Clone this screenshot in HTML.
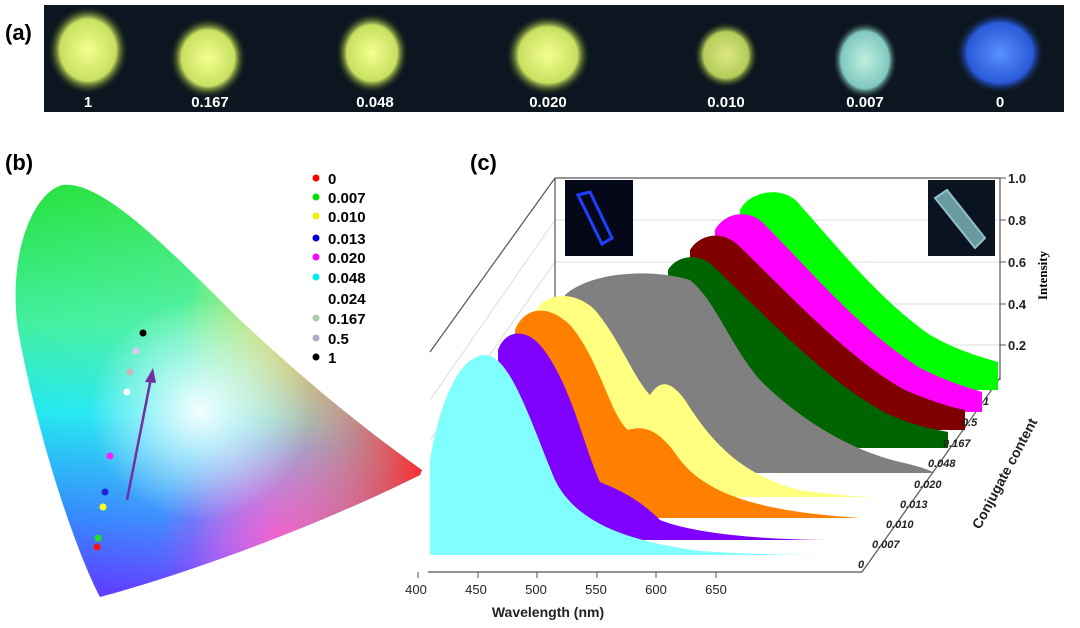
<!DOCTYPE html>
<html><head><meta charset="utf-8"><style>
body{margin:0;background:#fff;width:1080px;height:628px;overflow:hidden;font-family:"Liberation Sans",Arial,sans-serif}
svg{display:block}
</style></head><body>
<svg width="1080" height="628" viewBox="0 0 1080 628" xmlns="http://www.w3.org/2000/svg">
<defs>
<radialGradient id="sp" cx="50%" cy="50%" r="50%">
<stop offset="0" stop-color="#f4ff90"/><stop offset="0.7" stop-color="#c8e060"/><stop offset="1" stop-color="#223010" stop-opacity="0"/></radialGradient>
<radialGradient id="sb" cx="50%" cy="50%" r="50%">
<stop offset="0" stop-color="#5a90ff"/><stop offset="0.75" stop-color="#2a5ad8"/><stop offset="1" stop-color="#102040" stop-opacity="0"/></radialGradient>
<radialGradient id="sc" cx="50%" cy="50%" r="50%">
<stop offset="0" stop-color="#c0f0e0"/><stop offset="0.75" stop-color="#80c8c0"/><stop offset="1" stop-color="#203030" stop-opacity="0"/></radialGradient>
<linearGradient id="cieV" x1="0" y1="0" x2="0" y2="1">
<stop offset="0" stop-color="#20e030"/><stop offset="0.35" stop-color="#40f0a0"/><stop offset="0.55" stop-color="#20e8f0"/><stop offset="0.8" stop-color="#3080ff"/><stop offset="1" stop-color="#6020ff"/></linearGradient>
<linearGradient id="cieH" x1="0" y1="0" x2="1" y2="0">
<stop offset="0" stop-color="#fff" stop-opacity="0"/><stop offset="0.45" stop-color="#ffffff" stop-opacity="0.1"/><stop offset="1" stop-color="#ff2020" stop-opacity="1"/></linearGradient>
<radialGradient id="cieW" cx="200" cy="410" r="110" gradientUnits="userSpaceOnUse">
<stop offset="0" stop-color="#fff" stop-opacity="0.95"/><stop offset="1" stop-color="#fff" stop-opacity="0"/></radialGradient>
<radialGradient id="cieY" cx="300" cy="330" r="120" gradientUnits="userSpaceOnUse">
<stop offset="0" stop-color="#ffee20" stop-opacity="0.8"/><stop offset="1" stop-color="#ffee20" stop-opacity="0"/></radialGradient>
<radialGradient id="cieM" cx="280" cy="540" r="120" gradientUnits="userSpaceOnUse">
<stop offset="0" stop-color="#ff20e0" stop-opacity="0.9"/><stop offset="1" stop-color="#ff20e0" stop-opacity="0"/></radialGradient>
<clipPath id="cie"><path d="M100,597 C80,560 40,450 18,330 C8,260 30,195 62,185 C100,180 160,240 240,320 C320,395 380,440 422,470 L420,475 C330,520 200,570 100,597 Z"/></clipPath>
</defs>

<!-- (a) strip -->
<rect x="44" y="5" width="1020" height="107" fill="#0c1620"/>
<ellipse cx="88" cy="50" rx="40" ry="44" fill="url(#sp)"/>
<ellipse cx="208" cy="58" rx="38" ry="40" fill="url(#sp)"/>
<ellipse cx="372" cy="53" rx="36" ry="40" fill="url(#sp)"/>
<ellipse cx="548" cy="55" rx="42" ry="40" fill="url(#sp)"/>
<ellipse cx="726" cy="55" rx="32" ry="33" fill="url(#sp)" opacity="0.9"/>
<ellipse cx="865" cy="60" rx="32" ry="38" fill="url(#sc)"/>
<ellipse cx="1000" cy="53" rx="44" ry="40" fill="url(#sb)"/>
<g fill="#fff" font-weight="bold" font-size="15" text-anchor="middle">
<text x="88" y="107">1</text><text x="210" y="107">0.167</text><text x="375" y="107">0.048</text>
<text x="548" y="107">0.020</text><text x="726" y="107">0.010</text><text x="865" y="107">0.007</text><text x="1000" y="107">0</text></g>
<text x="5" y="40" font-size="22" font-weight="bold">(a)</text>
<text x="5" y="170" font-size="22" font-weight="bold">(b)</text>
<text x="470" y="170" font-size="22" font-weight="bold">(c)</text>

<!-- CIE -->
<g clip-path="url(#cie)">
<rect x="0" y="170" width="430" height="440" fill="url(#cieV)"/>
<rect x="0" y="170" width="430" height="440" fill="url(#cieY)"/>
<rect x="0" y="170" width="430" height="440" fill="url(#cieM)"/>
<rect x="0" y="170" width="430" height="440" fill="url(#cieH)"/>
<rect x="0" y="170" width="430" height="440" fill="url(#cieW)"/>
</g>
<line x1="127" y1="500" x2="151" y2="378" stroke="#7030a0" stroke-width="2.5"/>
<polygon points="153,368 145,382 156,383" fill="#7030a0"/>
<g>
<circle cx="143" cy="333" r="3.5" fill="#000"/><circle cx="136" cy="351" r="3.5" fill="#e0c8f0"/>
<circle cx="130" cy="372" r="3.5" fill="#c8b8b8"/><circle cx="127" cy="392" r="3.5" fill="#fff"/>
<circle cx="110" cy="456" r="3.5" fill="#ff20ff"/><circle cx="105" cy="492" r="3.5" fill="#2020e0"/>
<circle cx="103" cy="507" r="3.5" fill="#ffff20"/><circle cx="98" cy="538" r="3.5" fill="#20e020"/>
<circle cx="97" cy="547" r="3.5" fill="#ff1010"/></g>
<g font-size="15" font-weight="bold">
<circle cx="316" cy="178" r="3.5" fill="#f00"/><text x="328" y="184">0</text>
<circle cx="316" cy="197" r="3.5" fill="#0d0"/><text x="328" y="203">0.007</text>
<circle cx="316" cy="216" r="3.5" fill="#ee0"/><text x="328" y="222">0.010</text>
<circle cx="316" cy="238" r="3.5" fill="#00c"/><text x="328" y="244">0.013</text>
<circle cx="316" cy="257" r="3.5" fill="#f0f"/><text x="328" y="263">0.020</text>
<circle cx="316" cy="277" r="3.5" fill="#0ee"/><text x="328" y="283">0.048</text>
<text x="328" y="304">0.024</text>
<circle cx="316" cy="318" r="3.5" fill="#aca"/><text x="328" y="324">0.167</text>
<circle cx="316" cy="338" r="3.5" fill="#aac"/><text x="328" y="344">0.5</text>
<circle cx="316" cy="357" r="3.5" fill="#000"/><text x="328" y="363">1</text></g>

<!-- (c) 3D axes -->
<g stroke="#ddd" stroke-width="1">
<line x1="555" y1="220" x2="1000" y2="220"/><line x1="555" y1="262" x2="1000" y2="262"/>
<line x1="555" y1="304" x2="1000" y2="304"/><line x1="555" y1="345" x2="1000" y2="345"/>
<line x1="430" y1="400" x2="555" y2="220"/><line x1="430" y1="440" x2="555" y2="262"/>
<line x1="430" y1="480" x2="555" y2="304"/>
</g>
<g stroke="#555" stroke-width="1.2" fill="none">
<line x1="430" y1="352" x2="555" y2="178"/><line x1="555" y1="178" x2="1000" y2="178"/>
<line x1="555" y1="178" x2="555" y2="370"/>
<line x1="1000" y1="178" x2="1000" y2="380"/>
<line x1="428" y1="572" x2="862" y2="572"/><line x1="862" y1="572" x2="1000" y2="378"/>
</g>
<g stroke="#555"><line x1="1000" y1="178" x2="1006" y2="178"/><line x1="1000" y1="220" x2="1006" y2="220"/><line x1="1000" y1="262" x2="1006" y2="262"/><line x1="1000" y1="304" x2="1006" y2="304"/><line x1="1000" y1="345" x2="1006" y2="345"/></g>
<g font-size="13" font-weight="bold" fill="#222">
<text x="1008" y="183">1.0</text><text x="1008" y="225">0.8</text><text x="1008" y="267">0.6</text><text x="1008" y="309">0.4</text><text x="1008" y="350">0.2</text></g>
<text transform="translate(1047,300) rotate(-90)" font-family="Liberation Serif,serif" font-size="13" font-weight="bold">Intensity</text>

<!-- spectra back to front -->
<path d="M740,390 L740,210 C750,190 785,185 800,205 C840,250 880,300 930,335 C960,352 985,358 998,362 L998,390 Z" fill="#00ff00"/>
<path d="M715,412 L715,230 C725,212 750,208 765,225 C810,270 860,330 920,368 C950,383 970,388 982,392 L982,412 Z" fill="#ff00ff"/>
<path d="M690,430 L690,250 C700,234 722,230 738,245 C790,295 850,360 905,390 C935,403 955,408 965,410 L965,430 Z" fill="#800000"/>
<path d="M668,448 L668,270 C676,256 698,252 712,265 C770,320 830,385 890,415 C920,428 940,430 948,432 L948,448 Z" fill="#006400"/>
<path d="M565,473 L565,295 C590,272 650,268 690,280 C715,300 730,345 760,380 C800,420 850,450 900,462 C918,466 930,470 935,473 Z" fill="#808080"/>
<path d="M532,497 L532,320 C540,290 575,290 595,310 C620,340 635,380 650,395 C660,380 670,380 685,400 C710,440 740,475 800,490 C840,496 870,497 880,497 Z" fill="#ffff80"/>
<path d="M515,518 L515,330 C525,305 550,305 570,325 C600,360 610,415 628,430 C645,425 660,430 680,460 C710,498 770,512 860,518 Z" fill="#ff8000"/>
<path d="M498,540 L498,350 C505,330 525,328 540,345 C570,380 585,450 600,482 C620,490 640,500 660,520 C700,536 780,540 835,540 Z" fill="#8000ff"/>
<path d="M430,555 L430,460 C440,400 460,355 485,355 C510,355 530,420 555,480 C575,520 620,540 700,551 C760,555 810,555 830,555 Z" fill="#80ffff"/>

<!-- insets -->
<rect x="565" y="180" width="68" height="76" fill="#050818"/>
<path d="M578,195 L590,192 L612,238 L602,244 Z" fill="none" stroke="#2040ff" stroke-width="3"/>
<rect x="928" y="180" width="67" height="76" fill="#0a1420"/>
<path d="M935,198 L947,190 L985,238 L975,248 Z" fill="#6a9aa0" stroke="#90c0c8" stroke-width="2"/>

<!-- bottom axis ticks -->
<g stroke="#555"><line x1="418" y1="572" x2="418" y2="578"/><line x1="478" y1="572" x2="478" y2="578"/><line x1="537" y1="572" x2="537" y2="578"/><line x1="597" y1="572" x2="597" y2="578"/><line x1="656" y1="572" x2="656" y2="578"/><line x1="716" y1="572" x2="716" y2="578"/></g>
<g font-size="13" fill="#222" text-anchor="middle">
<text x="416" y="594">400</text><text x="476" y="594">450</text><text x="536" y="594">500</text><text x="596" y="594">550</text><text x="656" y="594">600</text><text x="716" y="594">650</text></g>
<text x="548" y="617" font-size="14" font-weight="bold" text-anchor="middle" fill="#222">Wavelength (nm)</text>
<g font-size="11" font-style="italic" font-weight="bold" fill="#222">
<text x="858" y="568">0</text><text x="872" y="548">0.007</text><text x="886" y="528">0.010</text><text x="900" y="508">0.013</text>
<text x="914" y="488">0.020</text><text x="928" y="467">0.048</text><text x="943" y="447">0.167</text><text x="962" y="426">0.5</text><text x="983" y="405">1</text></g>
<text transform="translate(980,530) rotate(-62)" font-size="14" font-weight="bold" fill="#222">Conjugate content</text>
</svg>
</body></html>
